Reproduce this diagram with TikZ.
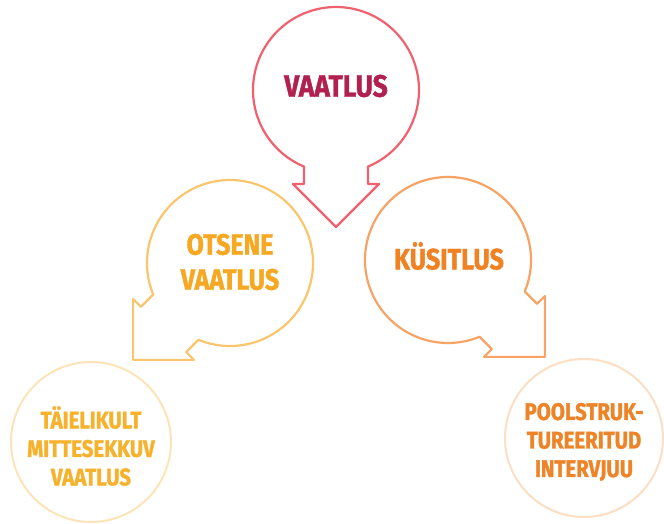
\documentclass[tikz,border=0pt]{standalone}
\usepackage{fontspec}
\setmainfont[FakeStretch=0.85, BoldFeatures={FakeBold=1.3}]{Fira Sans}
\definecolor{topline}{HTML}{F0606E}
\definecolor{toptext}{HTML}{B22050}
\definecolor{leftline}{HTML}{F9C66E}
\definecolor{lefttext}{HTML}{F6A823}
\definecolor{rightline}{HTML}{F6A365}
\definecolor{righttext}{HTML}{F08223}
\definecolor{blline}{HTML}{FCE4B8}
\definecolor{bltext}{HTML}{F6B22C}
\definecolor{brline}{HTML}{FADFC4}
\definecolor{brtext}{HTML}{EE8428}
\tikzset{
  bubble/.style={line width=2.2pt, line join=round, fill=white},
  lbl/.style={font=\bfseries, align=center, inner sep=0pt},
  bigl/.style={lbl, font=\fontsize{31}{37}\selectfont\bfseries},
  midl/.style={lbl, font=\fontsize{29.5}{35}\selectfont\bfseries},
  smalll/.style={lbl, font=\fontsize{24}{28.5}\selectfont\bfseries},
}
\newcommand{\arrowbubble}{%
  (-67.33:83) arc[start angle=-67.33, end angle=247.33, radius=83]
  -- (-32,-94) -- (-43,-94) -- (0,-137) -- (43,-94) -- (32,-94) -- cycle}
\begin{document}
\begin{tikzpicture}[x=1pt,y=1pt]
\useasboundingbox (0,0) rectangle (664,-524);
% bottom circles
\draw[bubble, draw=blline, line width=2pt] (91,-442) circle[radius=80];
\draw[bubble, draw=brline, line width=2pt] (584,-438) circle[radius=79];
% middle arrow bubbles
\begin{scope}[shift={(230,-263)}, rotate=-45]
  \draw[bubble, draw=leftline] \arrowbubble;
\end{scope}
\begin{scope}[shift={(448,-260)}, rotate=45]
  \draw[bubble, draw=rightline] \arrowbubble;
\end{scope}
% top arrow bubble
\begin{scope}[shift={(336,-90)}]
  \draw[bubble, draw=topline] \arrowbubble;
\end{scope}
% labels
\node[bigl, text=toptext] (vaatlus) at (336,-86) {VAATLUS};
\node[midl, text=lefttext] (otsene) at (230,-262) {OTSENE\\VAATLUS};
\node[midl, text=righttext] (kusitlus) at (449,-256) {KÜSITLUS};
\node[smalll, text=bltext] (taielikult) at (91,-446) {TÄIELIKULT\\MITTESEKKUV\\VAATLUS};
\node[smalll, text=brtext] (poolstruk) at (584,-442) {POOLSTRUK-\\TUREERITUD\\INTERVJUU};
\end{tikzpicture}
\end{document}
